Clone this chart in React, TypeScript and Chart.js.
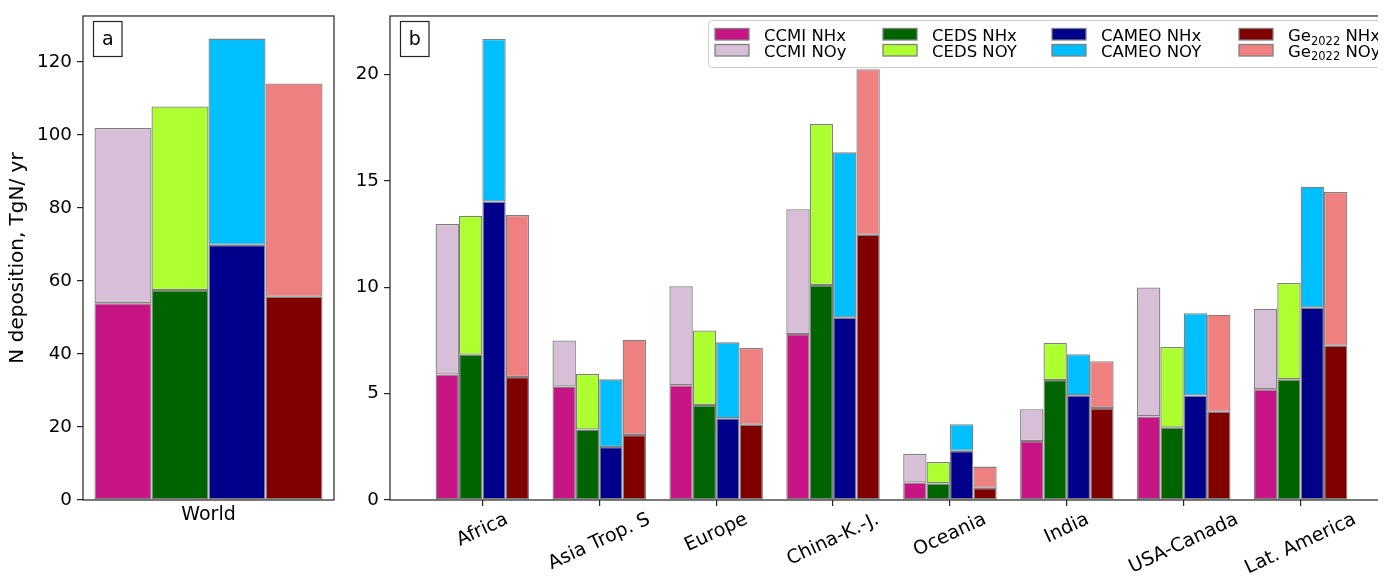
import React, { useEffect, useRef } from "react";
import { Chart, registerables } from "chart.js";

Chart.register(...registerables);

// ---- data ----
const regions = ["Africa", "Asia Trop. S", "Europe", "China-K.-J.", "Oceania", "India", "USA-Canada", "Lat. America"];
const worldCategory = ["World"];

// Regional N deposition (TgN/yr), NHx and NOy parts per model
const ccmiNHx = [5.9, 5.33, 5.39, 7.8, 0.82, 2.77, 3.93, 5.2];
const ccmiNOy = [7.07, 2.17, 4.66, 5.87, 1.35, 1.5, 6.06, 3.79];
const cedsNHx = [6.83, 3.31, 4.46, 10.1, 0.78, 5.64, 3.4, 5.67];
const cedsNOy = [6.53, 2.62, 3.51, 7.58, 1.01, 1.74, 3.79, 4.53];
const cameoNHx = [14.03, 2.49, 3.84, 8.57, 2.31, 4.92, 4.91, 9.04];
const cameoNOy = [7.64, 3.18, 3.57, 7.77, 1.25, 1.93, 3.87, 5.68];
const geNHx = [5.78, 3.06, 3.54, 12.47, 0.57, 4.32, 4.15, 7.25];
const geNOy = [7.61, 4.47, 3.61, 7.78, 1.0, 2.2, 4.56, 7.23];

// Global totals, order: CCMI, CEDS, CAMEO, Ge2022
const worldNHx = [53.9, 57.5, 69.9, 55.7];
const worldNOy = [48.0, 50.3, 56.5, 58.4];

const worldTicks = [0, 20, 40, 60, 80, 100, 120];
const regionTicks = [0, 5, 10, 15, 20];

const modelNames = ["CCMI", "CEDS", "CAMEO", "Ge"];
const modelSubs = ["", "", "", "2022"];
const speciesNames = [
  ["NHx", "NOy"],
  ["NHx", "NOY"],
  ["NHx", "NOY"],
  ["NHx", "NOy"],
];

// ---- styles ----
const FONT = "DejaVu Sans";
const nhxColors = ["#C71585", "#006400", "#00008B", "#800000"];
const noyColors = ["#D8BFD8", "#ADFF2F", "#00BFFF", "#F08080"];
const EDGE = "#808080";
const FRAME = "#222";

const OFFSET_B = 340; // left position of the regional canvas on the page

const regionalNHx = [ccmiNHx, cedsNHx, cameoNHx, geNHx];
const regionalNOy = [ccmiNOy, cedsNOy, cameoNOy, geNOy];

function subToUnicode(s: string) {
  const map: Record<string, string> = { "0": "₀", "1": "₁", "2": "₂", "3": "₃", "4": "₄", "5": "₅", "6": "₆", "7": "₇", "8": "₈", "9": "₉" };
  return s.split("").map((c) => map[c] || c).join("");
}

function seriesLabel(k: number, s: number) {
  return modelNames[k] + subToUnicode(modelSubs[k]) + " " + speciesNames[k][s];
}

const barStyle = (color: string) => ({
  backgroundColor: color,
  borderColor: EDGE,
  borderWidth: 1.3,
  borderSkipped: false as const,
});

const framePlugin = {
  id: "frame",
  afterDraw(chart: any) {
    const { ctx, chartArea: a } = chart;
    ctx.save();
    ctx.strokeStyle = FRAME;
    ctx.lineWidth = 1.2;
    ctx.strokeRect(a.left, a.top, a.right - a.left, a.bottom - a.top);
    ctx.restore();
  },
};

function panelLetter(ctx: CanvasRenderingContext2D, x: number, letter: string) {
  ctx.save();
  ctx.fillStyle = "#fff";
  ctx.fillRect(x, 21.5, 28.5, 35);
  ctx.strokeStyle = FRAME;
  ctx.lineWidth = 1.2;
  ctx.strokeRect(x, 21.5, 28.5, 35);
  ctx.fillStyle = "#000";
  ctx.font = `19px "${FONT}"`;
  ctx.textAlign = "center";
  ctx.textBaseline = "alphabetic";
  ctx.fillText(letter, x + 14.25, 45);
  ctx.restore();
}

const worldDecor = {
  id: "worldDecor",
  afterDraw(chart: any) {
    const { ctx } = chart;
    panelLetter(ctx, 93.5, "a");
    ctx.save();
    ctx.fillStyle = "#000";
    ctx.font = `19px "${FONT}"`;
    ctx.textAlign = "center";
    ctx.textBaseline = "alphabetic";
    const xs = chart.scales.x;
    ctx.fillText(worldCategory[0], xs.getPixelForValue(0), 520);
    ctx.restore();
  },
};

function roundRect(ctx: CanvasRenderingContext2D, x: number, y: number, w: number, h: number, r: number) {
  ctx.beginPath();
  ctx.moveTo(x + r, y);
  ctx.lineTo(x + w - r, y);
  ctx.quadraticCurveTo(x + w, y, x + w, y + r);
  ctx.lineTo(x + w, y + h - r);
  ctx.quadraticCurveTo(x + w, y + h, x + w - r, y + h);
  ctx.lineTo(x + r, y + h);
  ctx.quadraticCurveTo(x, y + h, x, y + h - r);
  ctx.lineTo(x, y + r);
  ctx.quadraticCurveTo(x, y, x + r, y);
  ctx.closePath();
}

const regionDecor = {
  id: "regionDecor",
  afterDraw(chart: any) {
    const { ctx } = chart;
    const xs = chart.scales.x;
    panelLetter(ctx, 400.5 - OFFSET_B, "b");

    // rotated region names below the axis
    ctx.save();
    ctx.fillStyle = "#000";
    ctx.font = `19px "${FONT}"`;
    ctx.textAlign = "center";
    ctx.textBaseline = "middle";
    const ang = (25 * Math.PI) / 180;
    regions.forEach((name, i) => {
      const w = ctx.measureText(name).width;
      const h = 14.5;
      const H = w * Math.sin(ang) + h * Math.cos(ang);
      const cx = xs.getPixelForValue(i);
      const cy = 512 + H / 2;
      ctx.save();
      ctx.translate(cx, cy);
      ctx.rotate(-ang);
      ctx.fillText(name, 0, 0);
      ctx.restore();
    });
    ctx.restore();

    // legend
    const lx = 708.5 - OFFSET_B;
    ctx.save();
    roundRect(ctx, lx, 20.5, 675, 47, 4);
    ctx.fillStyle = "rgba(255,255,255,0.8)";
    ctx.fill();
    ctx.strokeStyle = "#cccccc";
    ctx.lineWidth = 1;
    ctx.stroke();

    const patchX = [715, 883, 1052, 1239];
    const textX = [764, 932, 1101, 1288];
    const patchY = [28.5, 44.5];
    const baseY = [41, 56.5];
    for (let k = 0; k < 4; k++) {
      for (let s = 0; s < 2; s++) {
        const px = patchX[k] - OFFSET_B;
        ctx.fillStyle = s === 0 ? nhxColors[k] : noyColors[k];
        ctx.fillRect(px, patchY[s], 34, 11.5);
        ctx.strokeStyle = EDGE;
        ctx.lineWidth = 1.3;
        ctx.strokeRect(px, patchY[s], 34, 11.5);

        let tx = textX[k] - OFFSET_B;
        ctx.fillStyle = "#000";
        ctx.textAlign = "left";
        ctx.textBaseline = "alphabetic";
        ctx.font = `16.5px "${FONT}"`;
        ctx.fillText(modelNames[k], tx, baseY[s]);
        tx += ctx.measureText(modelNames[k]).width;
        if (modelSubs[k]) {
          ctx.font = `11.5px "${FONT}"`;
          ctx.fillText(modelSubs[k], tx, baseY[s] + 3.5);
          tx += ctx.measureText(modelSubs[k]).width;
          ctx.font = `16.5px "${FONT}"`;
        }
        ctx.fillText(" " + speciesNames[k][s], tx, baseY[s]);
      }
    }
    ctx.restore();
  },
};

const tickGrid = {
  drawOnChartArea: false,
  drawTicks: true,
  tickLength: 6,
  color: FRAME,
  lineWidth: 1.2,
};

export default function App() {
  const refA = useRef<HTMLCanvasElement | null>(null);
  const refB = useRef<HTMLCanvasElement | null>(null);

  useEffect(() => {
    const worldDatasets: any[] = [];
    for (let k = 0; k < 4; k++) {
      worldDatasets.push({ label: seriesLabel(k, 0), data: [worldNHx[k]], stack: modelNames[k], ...barStyle(nhxColors[k]) });
      worldDatasets.push({ label: seriesLabel(k, 1), data: [worldNOy[k]], stack: modelNames[k], ...barStyle(noyColors[k]) });
    }

    const chartA = new Chart(refA.current as HTMLCanvasElement, {
      type: "bar",
      data: { labels: worldCategory, datasets: worldDatasets },
      options: {
        animation: false,
        responsive: false,
        devicePixelRatio: 1,
        layout: { padding: { top: 12, right: 6, left: 0, bottom: 0 } },
        datasets: { bar: { categoryPercentage: 0.9084, barPercentage: 1 } },
        plugins: { legend: { display: false }, tooltip: { enabled: false } },
        scales: {
          x: {
            stacked: true,
            ticks: { display: false },
            grid: { display: false },
            border: { display: false },
            afterFit: (s: any) => {
              s.height = 81;
            },
          },
          y: {
            stacked: true,
            min: 0,
            max: 132.6,
            bounds: "data",
            afterBuildTicks: (s: any) => {
              s.ticks = worldTicks.map((v) => ({ value: v }));
            },
            ticks: { font: { family: FONT, size: 18.3 }, color: "#000", padding: 5 },
            grid: tickGrid,
            border: { display: false },
            title: {
              display: true,
              text: "N deposition, TgN/ yr",
              font: { family: FONT, size: 20 },
              color: "#000",
              padding: { top: 6, bottom: 0 },
            },
            afterFit: (s: any) => {
              s.width = 83;
            },
          },
        },
      } as any,
      plugins: [framePlugin, worldDecor],
    });

    const regionDatasets: any[] = [];
    for (let k = 0; k < 4; k++) {
      regionDatasets.push({
        label: seriesLabel(k, 0),
        data: regionalNHx[k].map((v, i) => ({ x: i, y: v })),
        stack: modelNames[k],
        ...barStyle(nhxColors[k]),
      });
      regionDatasets.push({
        label: seriesLabel(k, 1),
        data: regionalNOy[k].map((v, i) => ({ x: i, y: v })),
        stack: modelNames[k],
        ...barStyle(noyColors[k]),
      });
    }

    const chartB = new Chart(refB.current as HTMLCanvasElement, {
      type: "bar",
      data: { datasets: regionDatasets },
      options: {
        animation: false,
        responsive: false,
        devicePixelRatio: 1,
        layout: { padding: { top: 12, right: 17, left: 0, bottom: 0 } },
        datasets: { bar: { categoryPercentage: 0.8, barPercentage: 1 } },
        plugins: { legend: { display: false }, tooltip: { enabled: false } },
        scales: {
          x: {
            type: "linear",
            min: -0.79,
            max: 7.79,
            bounds: "data",
            offset: false,
            afterBuildTicks: (s: any) => {
              s.ticks = regions.map((_, i) => ({ value: i }));
            },
            ticks: { display: false },
            grid: { ...tickGrid, offset: false },
            border: { display: false },
            afterFit: (s: any) => {
              s.height = 81;
            },
          },
          y: {
            stacked: true,
            min: 0,
            max: 22.75,
            bounds: "data",
            afterBuildTicks: (s: any) => {
              s.ticks = regionTicks.map((v) => ({ value: v }));
            },
            ticks: { font: { family: FONT, size: 18.3 }, color: "#000", padding: 5 },
            grid: tickGrid,
            border: { display: false },
            afterFit: (s: any) => {
              s.width = 50;
            },
          },
        },
      } as any,
      plugins: [framePlugin, regionDecor],
    });

    return () => {
      chartA.destroy();
      chartB.destroy();
    };
  }, []);

  return (
    <div
      style={{
        position: "relative",
        width: 1386,
        height: 581,
        margin: -8,
        overflow: "hidden",
        background: "#fff",
      }}
    >
      <canvas ref={refA} width={340} height={581} style={{ position: "absolute", left: 0, top: 0 }} />
      <canvas ref={refB} width={1070} height={581} style={{ position: "absolute", left: OFFSET_B, top: 0 }} />
    </div>
  );
}
